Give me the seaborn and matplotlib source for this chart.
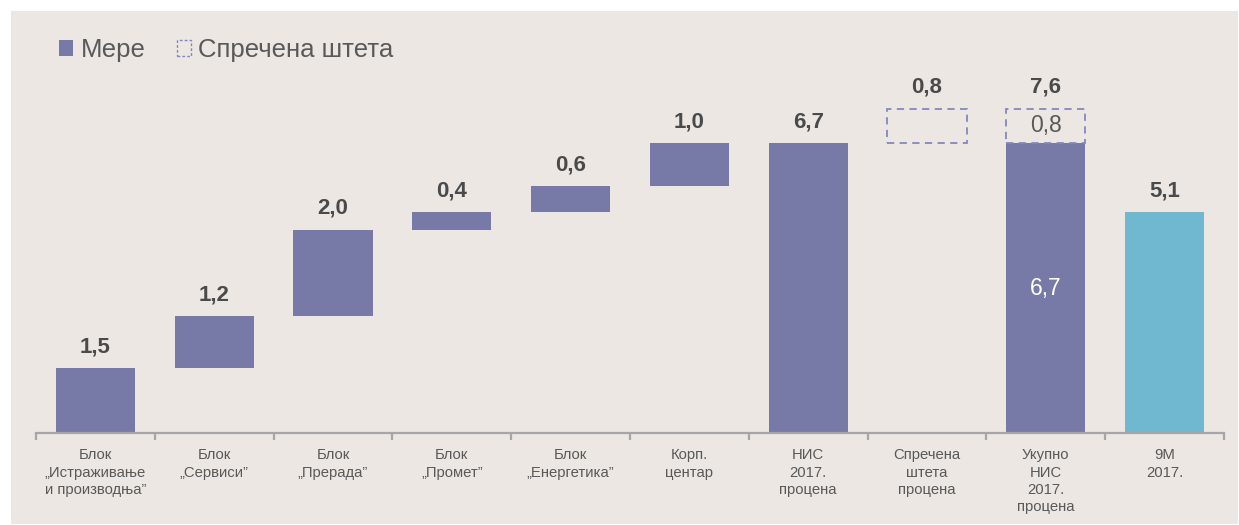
import numpy as np
import pandas as pd
import matplotlib
matplotlib.use("Agg")
import matplotlib.pyplot as plt
from matplotlib.patches import Patch, Rectangle
import seaborn as sns

# ---------------- data ----------------
categories = [
    "Блок\n„Истраживање\nи производња”",
    "Блок\n„Сервиси”",
    "Блок\n„Прерада”",
    "Блок\n„Промет”",
    "Блок\n„Енергетика”",
    "Корп.\nцентар",
    "НИС\n2017.\nпроцена",
    "Спречена\nштета\nпроцена",
    "Укупно\nНИС\n2017.\nпроцена",
    "9M\n2017.",
]
measures = [1.5, 1.2, 2.0, 0.4, 0.6, 1.0]   # block contributions (waterfall steps)
nis_estimate = 6.7                            # NIS 2017 estimate
prevented_damage = 0.8                        # prevented damage estimate
total_label_value = 7.6                       # total shown above total column
actual_9m = 5.1                               # 9M 2017 actual

legend_labels = ["Мере", "Спречена штета"]

# ---------------- styling ----------------
PURPLE = "#777AA7"
TEAL = "#6FB8CF"
DASH = "#8487BD"
BG = "#ECE7E3"
TXT = "#595959"
BOLD_TXT = "#4A4A4A"
AXIS = "#A6A6A6"


def fmt(v):
    return f"{v:.1f}".replace(".", ",")


# build waterfall table
bottoms = list(np.concatenate([[0], np.cumsum(measures)[:-1]]))
solid = pd.DataFrame({
    "cat": categories[:6] + [categories[6], categories[8], categories[9]],
    "bottom": bottoms + [0, 0, 0],
    "height": measures + [nis_estimate, nis_estimate, actual_9m],
})
solid["top"] = solid["bottom"] + solid["height"]
dashed = pd.DataFrame({
    "cat": [categories[7], categories[8]],
    "bottom": [nis_estimate, nis_estimate],
    "height": [prevented_damage, prevented_damage],
})
dashed["top"] = dashed["bottom"] + dashed["height"]

top_labels = measures + [nis_estimate, prevented_damage, total_label_value, actual_9m]

sns.set_theme(style="white")
plt.rcParams["font.family"] = ["Liberation Sans", "DejaVu Sans"]

fig = plt.figure(figsize=(12.39, 5.25), dpi=100, facecolor="white")
fig.patches.append(Rectangle((11 / 1239, 1 / 525), 1227 / 1239, 513 / 525,
                             transform=fig.transFigure, facecolor=BG,
                             edgecolor="none", zorder=-10))

ax = fig.add_axes([36 / 1239, 92 / 525, 1188 / 1239, 411 / 525])
ax.set_facecolor("none")

WIDTH = 0.665
sns.barplot(data=solid, x="cat", y="top", order=categories, color=PURPLE,
            width=WIDTH, errorbar=None, saturation=1, ax=ax, zorder=3)
n_solid = len(ax.patches)
sns.barplot(data=dashed, x="cat", y="top", order=categories, color=DASH,
            width=WIDTH, errorbar=None, saturation=1, fill=False, ax=ax, zorder=3)

# move bars to their floating positions (waterfall)
for i, p in enumerate(ax.patches):
    idx = int(round(p.get_x() + p.get_width() / 2))
    cat = categories[idx]
    if i < n_solid:
        row = solid[solid["cat"] == cat].iloc[0]
        p.set_y(row["bottom"])
        p.set_height(row["height"])
        p.set_edgecolor("none")
        if idx == 9:
            p.set_facecolor(TEAL)
        else:
            p.set_facecolor(PURPLE)
    else:
        row = dashed[dashed["cat"] == cat].iloc[0]
        p.set_y(row["bottom"])
        p.set_height(row["height"])
        p.set_facecolor("none")
        p.set_edgecolor(DASH)
        p.set_linestyle((0, (4, 3)))
        p.set_linewidth(1.3)

# value labels above bars
tops = []
for idx, cat in enumerate(categories):
    t = 0
    if cat in set(solid["cat"]):
        t = max(t, solid.loc[solid["cat"] == cat, "top"].max())
    if cat in set(dashed["cat"]):
        t = max(t, dashed.loc[dashed["cat"] == cat, "top"].max())
    tops.append(t)
for idx, (t, v) in enumerate(zip(tops, top_labels)):
    ax.annotate(fmt(v), xy=(idx, t), xytext=(0, 11.5), textcoords="offset points",
                ha="center", va="baseline", fontsize=16, fontweight="bold",
                color=BOLD_TXT, zorder=5)

# inner labels on total column
ax.text(8, nis_estimate / 2, fmt(nis_estimate), ha="center", va="center",
        fontsize=16.5, color="white", zorder=5)
ax.text(8, nis_estimate + prevented_damage / 2, fmt(prevented_damage),
        ha="center", va="center", fontsize=16.5, color=TXT, zorder=5)

# axes
ax.set_xlim(-0.5, len(categories) - 0.5)
ax.set_ylim(0, 9.5)
ax.set_xlabel("")
ax.set_ylabel("")
ax.set_yticks([])
for s in ["top", "right", "left"]:
    ax.spines[s].set_visible(False)
ax.spines["bottom"].set_color(AXIS)
ax.spines["bottom"].set_linewidth(1.6)
ax.spines["bottom"].set_zorder(4)
ax.set_xticks(range(len(categories)))
ax.set_xticklabels(categories, fontsize=10.7, color=TXT, linespacing=1.3)
ax.set_xticks(np.arange(-0.5, len(categories)), minor=True)
ax.tick_params(axis="x", which="major", length=0, pad=11)
ax.tick_params(axis="x", which="minor", length=5, width=1.6, color=AXIS,
               direction="out", bottom=True)

# legend
handles = [
    Patch(facecolor=PURPLE, edgecolor="none"),
    Patch(facecolor="none", edgecolor=DASH, linestyle=(0, (2, 1.5)), linewidth=1.0),
]
fig.legend(handles, legend_labels, loc="center left",
           bbox_to_anchor=(59 / 1239, 1 - 50 / 525), ncol=2, frameon=False,
           fontsize=18.5, labelcolor=TXT, handlelength=0.55, handleheight=0.55,
           handletextpad=0.3, columnspacing=1.2, borderpad=0, borderaxespad=0)

fig.savefig("out.png", dpi=100, facecolor="white")
